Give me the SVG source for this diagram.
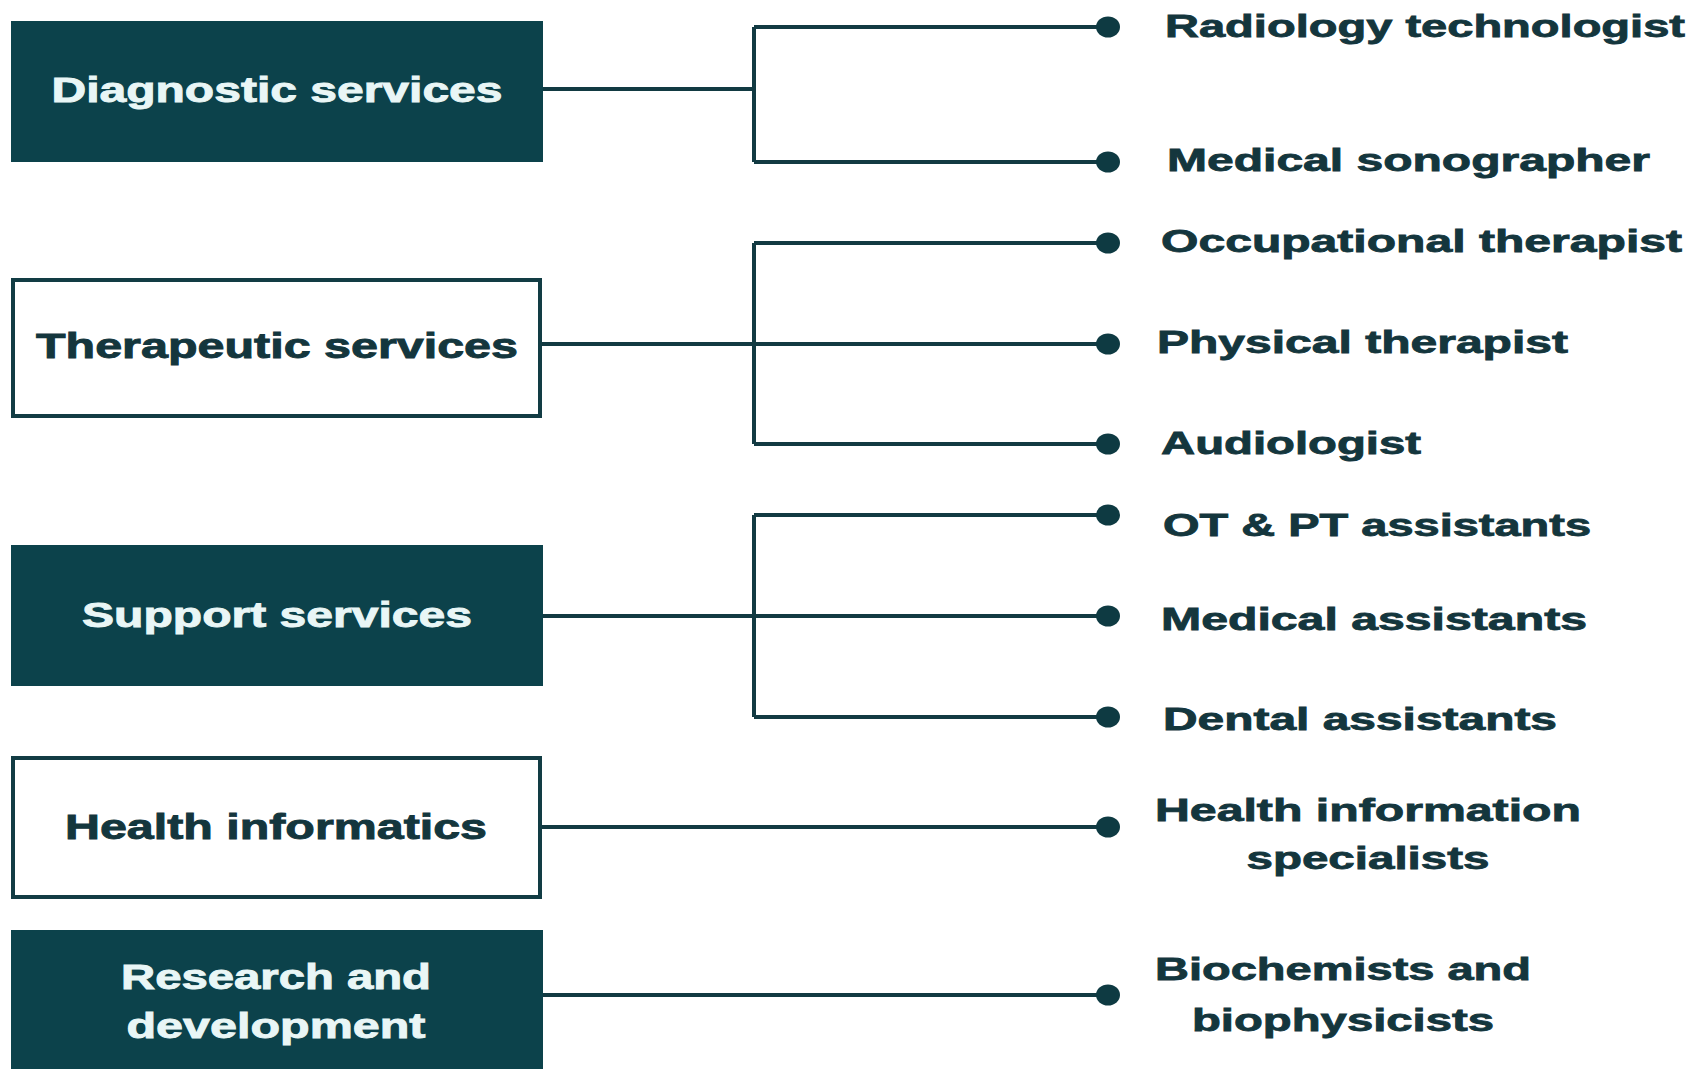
<svg xmlns="http://www.w3.org/2000/svg" width="1694" height="1069" viewBox="0 0 1694 1069">
<style>
.fill{fill:#0c424b;}
.out{fill:#ffffff;stroke:#123c44;stroke-width:4;}
.lt{font-family:"Liberation Sans",Arial,sans-serif;font-weight:bold;font-size:35px;fill:#e9f6f6;stroke:#e9f6f6;stroke-width:0.9;}
.ld{font-family:"Liberation Sans",Arial,sans-serif;font-weight:bold;font-size:35px;fill:#14363d;stroke:#14363d;stroke-width:0.9;}
.rt{font-family:"Liberation Sans",Arial,sans-serif;font-weight:bold;font-size:31px;fill:#14363d;stroke:#14363d;stroke-width:0.8;}
.ln{fill:none;stroke:#123a42;stroke-width:4;}
.dot{fill:#0e3a42;}
</style>
<rect width="1694" height="1069" fill="#ffffff"/>
<g id="connectors">
<path class="ln" d="M543 89H754M754 27V162M754 27H1108M754 162H1108"/>
<path class="ln" d="M540 344H1108M754 243V444M754 243H1108M754 444H1108"/>
<path class="ln" d="M543 616H1108M754 515V717M754 515H1108M754 717H1108"/>
<path class="ln" d="M540 827H1108"/>
<path class="ln" d="M543 995H1108"/>
<ellipse class="dot" cx="1108" cy="27" rx="12" ry="10.5"/>
<ellipse class="dot" cx="1108" cy="162" rx="12" ry="10.5"/>
<ellipse class="dot" cx="1108" cy="243" rx="12" ry="10.5"/>
<ellipse class="dot" cx="1108" cy="344" rx="12" ry="10.5"/>
<ellipse class="dot" cx="1108" cy="444" rx="12" ry="10.5"/>
<ellipse class="dot" cx="1108" cy="515" rx="12" ry="10.5"/>
<ellipse class="dot" cx="1108" cy="616" rx="12" ry="10.5"/>
<ellipse class="dot" cx="1108" cy="717" rx="12" ry="10.5"/>
<ellipse class="dot" cx="1108" cy="827" rx="12" ry="10.5"/>
<ellipse class="dot" cx="1108" cy="995" rx="12" ry="10.5"/>
</g>
<g id="diagnostic">
<rect class="fill" x="11" y="21" width="532" height="141"/>
<text class="lt" x="277" y="102" text-anchor="middle" textLength="451" lengthAdjust="spacingAndGlyphs">Diagnostic services</text>
</g>
<g id="therapeutic">
<rect class="out" x="13" y="280" width="527" height="136"/>
<text class="ld" x="277" y="358" text-anchor="middle" textLength="482" lengthAdjust="spacingAndGlyphs">Therapeutic services</text>
</g>
<g id="support">
<rect class="fill" x="11" y="545" width="532" height="141"/>
<text class="lt" x="277" y="627" text-anchor="middle" textLength="390" lengthAdjust="spacingAndGlyphs">Support services</text>
</g>
<g id="informatics">
<rect class="out" x="13" y="758" width="527" height="139"/>
<text class="ld" x="276" y="839" text-anchor="middle" textLength="422" lengthAdjust="spacingAndGlyphs">Health informatics</text>
</g>
<g id="research">
<rect class="fill" x="11" y="930" width="532" height="145"/>
<text class="lt" x="276" y="989" text-anchor="middle" textLength="310" lengthAdjust="spacingAndGlyphs">Research and</text>
<text class="lt" x="276" y="1038" text-anchor="middle" textLength="299" lengthAdjust="spacingAndGlyphs">development</text>
</g>
<g id="radiology"><text class="rt" x="1165" y="37" textLength="520" lengthAdjust="spacingAndGlyphs">Radiology technologist</text></g>
<g id="sonographer"><text class="rt" x="1167" y="171" textLength="483" lengthAdjust="spacingAndGlyphs">Medical sonographer</text></g>
<g id="occupational"><text class="rt" x="1161" y="252" textLength="521" lengthAdjust="spacingAndGlyphs">Occupational therapist</text></g>
<g id="physical"><text class="rt" x="1157" y="353" textLength="411" lengthAdjust="spacingAndGlyphs">Physical therapist</text></g>
<g id="audiologist"><text class="rt" x="1161" y="454" textLength="260" lengthAdjust="spacingAndGlyphs">Audiologist</text></g>
<g id="otpt"><text class="rt" x="1163" y="536" textLength="428" lengthAdjust="spacingAndGlyphs">OT &amp; PT assistants</text></g>
<g id="medassist"><text class="rt" x="1161" y="630" textLength="426" lengthAdjust="spacingAndGlyphs">Medical assistants</text></g>
<g id="dental"><text class="rt" x="1163" y="730" textLength="394" lengthAdjust="spacingAndGlyphs">Dental assistants</text></g>
<g id="his">
<text class="rt" x="1368" y="821" text-anchor="middle" textLength="426" lengthAdjust="spacingAndGlyphs">Health information</text>
<text class="rt" x="1368" y="869" text-anchor="middle" textLength="243" lengthAdjust="spacingAndGlyphs">specialists</text>
</g>
<g id="biochem">
<text class="rt" x="1343" y="980" text-anchor="middle" textLength="376" lengthAdjust="spacingAndGlyphs">Biochemists and</text>
<text class="rt" x="1343" y="1031" text-anchor="middle" textLength="302" lengthAdjust="spacingAndGlyphs">biophysicists</text>
</g>
</svg>
